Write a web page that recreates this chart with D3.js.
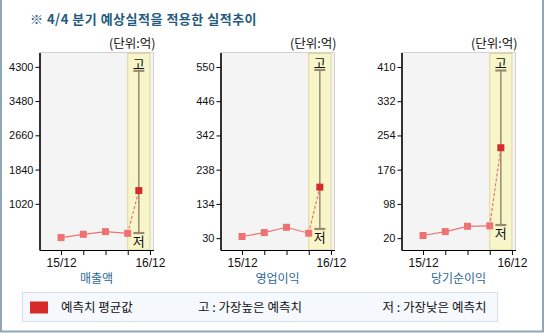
<!DOCTYPE html>
<html><head><meta charset="utf-8">
<script src="https://cdn.jsdelivr.net/npm/d3@7"></script>
<style>
body{margin:0;background:#fff;}
svg{display:block;}
text{font-family:"Noto Sans CJK KR","Liberation Sans",sans-serif;}
.num{font-family:"Liberation Sans",Arial,sans-serif;}
</style></head><body>
<svg id="chart" width="544" height="333"></svg>
<script>
const title = "※ 4/4 분기 예상실적을 적용한 실적추이";
const unitLabel = "(단위:억)";
const categories = ["매출액", "영업이익", "당기순이익"];
const quarters = ["15/12", "16/03", "16/06", "16/09", "16/12"];
const quarterLabels = ["15/12", "", "", "", "16/12"];

// actual quarterly results (억)
const revenueActual = [210, 289, 353, 313];
const opIncomeActual = [35, 47, 63, 45];
const netIncomeActual = [26, 35, 47, 48];

// 16/12 consensus: average, highest and lowest estimate
const forecastAvg = [1337, 185, 226];
const forecastHigh = [4205, 541, 402];
const forecastLow = [320, 58, 50];

// y-axis ticks and extents
const revenueTicks = [1020, 1840, 2660, 3480, 4300];
const opIncomeTicks = [30, 134, 238, 342, 446, 550];
const netIncomeTicks = [20, 98, 176, 254, 332, 410];
const revenueDomain = [-87, 4644];
const opIncomeDomain = [-6, 594];
const netIncomeDomain = [-7, 443];

const legendLabels = ["예측치 평균값", "고 : 가장높은 예측치", "저 : 가장낮은 예측치"];

const panels = [
  {name: categories[0], actual: revenueActual, ticks: revenueTicks, domain: revenueDomain},
  {name: categories[1], actual: opIncomeActual, ticks: opIncomeTicks, domain: opIncomeDomain},
  {name: categories[2], actual: netIncomeActual, ticks: netIncomeTicks, domain: netIncomeDomain}
];

const svg = d3.select("#chart");

// outer frame (left, right, bottom)
svg.append("path")
  .attr("d", "M1,0 V331.5 H543 V0")
  .attr("fill", "none").attr("stroke", "#8fa8b7").attr("stroke-width", 2);

svg.append("text")
  .attr("x", 30).attr("y", 23.5)
  .attr("font-size", 13).attr("font-weight", "bold")
  .attr("letter-spacing", 0.5)
  .attr("fill", "#245a7e")
  .text(title);

const plotTop = 52.5, plotBottom = 250, plotWidth = 114;
const salmon = "#ef7272", red = "#d72b2b", barColor = "#9a8a6c";

panels.forEach((p, i) => {
  const left = 39.5 + i * 181;
  const right = left + plotWidth;
  const x = d3.scaleLinear().domain([-0.97, 4.16]).range([left, right]);
  const y = d3.scaleLinear().domain(p.domain).range([plotBottom, plotTop]);
  const g = svg.append("g");

  g.append("rect").attr("x", left).attr("y", plotTop)
    .attr("width", plotWidth).attr("height", plotBottom - plotTop).attr("fill", "#f4f4f4");
  g.append("path").attr("d", `M${left},${plotTop} H${right} V${plotBottom}`)
    .attr("fill", "none").attr("stroke", "#d2d2d2");

  // forecast quarter band
  g.append("rect").attr("x", x(3)).attr("y", plotTop + 1)
    .attr("width", x(4) - x(3)).attr("height", plotBottom - plotTop - 1)
    .attr("fill", "#f6f6ca").attr("stroke", "#e6d39c");

  // unit label
  g.append("text").attr("x", right + 2).attr("y", 47.5)
    .attr("text-anchor", "end").attr("font-size", 12.5).attr("fill", "#111")
    .text(unitLabel);

  // axes
  const ya = g.append("g").attr("transform", `translate(${left},0)`)
    .call(d3.axisLeft(y).tickValues(p.ticks).tickSize(4).tickSizeOuter(0).tickPadding(2).tickFormat(d3.format("d")));
  ya.selectAll("text").attr("class", "num").attr("font-size", 11).attr("fill", "#111");
  ya.select(".domain").attr("stroke", "#000").attr("stroke-width", 1.6);

  const xa = g.append("g").attr("transform", `translate(0,${plotBottom})`)
    .call(d3.axisBottom(x).tickValues(d3.range(quarters.length)).tickSize(5).tickSizeOuter(0).tickPadding(3)
      .tickFormat(k => quarterLabels[k]));
  xa.selectAll("text").attr("class", "num").attr("font-size", 12).attr("fill", "#111");
  xa.select(".domain").attr("stroke", "#000").attr("stroke-width", 1.2);

  // high / low estimate range
  const fx = x(3.5);
  const yh = y(forecastHigh[i]), yl = y(forecastLow[i]);
  g.append("line").attr("x1", fx).attr("x2", fx).attr("y1", yh).attr("y2", yl)
    .attr("stroke", barColor).attr("stroke-width", 1.5);
  [yh, yl].forEach(v => g.append("line").attr("x1", fx - 5.5).attr("x2", fx + 5.5)
    .attr("y1", v).attr("y2", v).attr("stroke", barColor).attr("stroke-width", 2.2));
  g.append("text").attr("x", fx).attr("y", yh - 2).attr("text-anchor", "middle")
    .attr("font-size", 13).attr("fill", "#111").text("고");
  g.append("text").attr("x", fx).attr("y", yl + 13).attr("text-anchor", "middle")
    .attr("font-size", 13).attr("fill", "#111").text("저");

  // actual line and dashed link to the average estimate
  g.append("path").datum(p.actual)
    .attr("d", d3.line().x((d, k) => x(k)).y(d => y(d)))
    .attr("fill", "none").attr("stroke", salmon).attr("stroke-width", 1.2);
  g.append("line").attr("x1", x(3)).attr("y1", y(p.actual[3]))
    .attr("x2", fx).attr("y2", y(forecastAvg[i]))
    .attr("stroke", salmon).attr("stroke-width", 1.2).attr("stroke-dasharray", "3,2");

  g.selectAll(".pt").data(p.actual).join("rect")
    .attr("x", (d, k) => x(k) - 3.5).attr("y", d => y(d) - 3.5)
    .attr("width", 7).attr("height", 7).attr("fill", salmon);
  g.append("rect").attr("x", fx - 3.5).attr("y", y(forecastAvg[i]) - 3.5)
    .attr("width", 7).attr("height", 7).attr("fill", red);

  g.append("text").attr("x", (left + right) / 2).attr("y", 283)
    .attr("text-anchor", "middle").attr("font-size", 12).attr("fill", "#2b6896")
    .text(p.name);
});

// legend
const lg = svg.append("g");
lg.append("rect").attr("x", 22.5).attr("y", 292.5).attr("width", 475).attr("height", 29)
  .attr("fill", "#f5f8fd").attr("stroke", "#d3dfea");
lg.append("rect").attr("x", 30).attr("y", 301.5).attr("width", 18).attr("height", 12).attr("fill", red);
[61, 198, 382.5].forEach((lx, k) => lg.append("text").attr("x", lx).attr("y", 312)
  .attr("font-size", 12.5).attr("fill", "#111").text(legendLabels[k]));
</script></body></html>
